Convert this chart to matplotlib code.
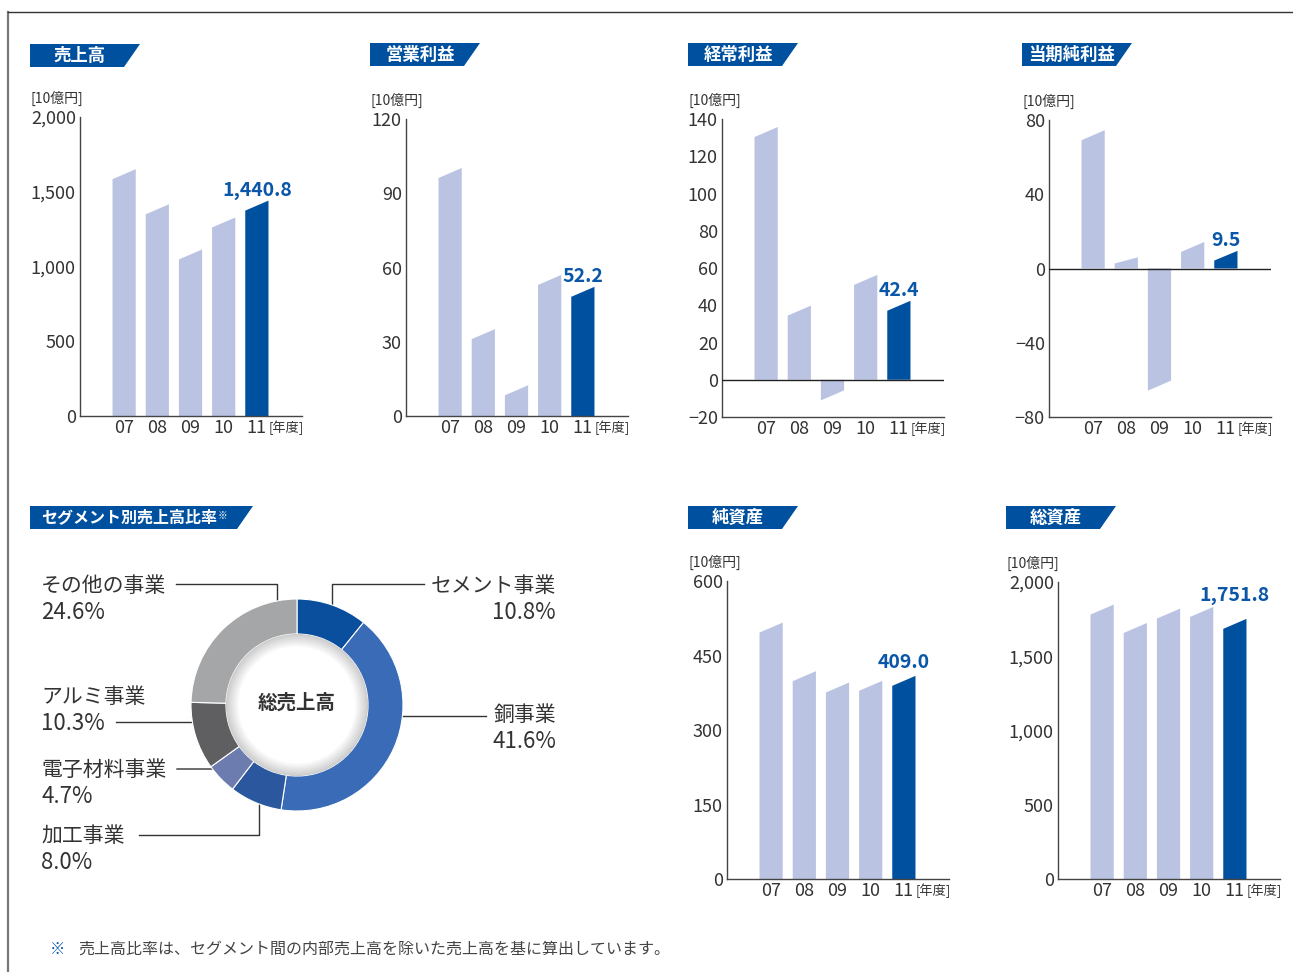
import numpy as np
import matplotlib
matplotlib.use('Agg')
import matplotlib.pyplot as plt
from matplotlib.patches import Polygon, Wedge

plt.rcParams['font.family'] = ['Noto Sans CJK JP', 'DejaVu Sans']

W, H = 1293, 972

# data (10億円)
years = ['07', '08', '09', '10', '11']
sales = [1651, 1416, 1114, 1328, 1440.8]
operating_income = [100.2, 35.1, 12.4, 57.0, 52.2]
ordinary_income = [135.7, 39.8, -5.7, 56.3, 42.4]
net_income = [74.5, 6.0, -60.4, 14.3, 9.5]
net_assets = [516.3, 418.4, 395.6, 399.0, 409.0]
total_assets = [1848, 1724, 1821, 1832, 1751.8]

sales_ticks = [0, 500, 1000, 1500, 2000]
operating_ticks = [0, 30, 60, 90, 120]
ordinary_ticks = [-20, 0, 20, 40, 60, 80, 100, 120, 140]
net_ticks = [-80, -40, 0, 40, 80]
net_assets_ticks = [0, 150, 300, 450, 600]
total_assets_ticks = [0, 500, 1000, 1500, 2000]

segment_names = ['セメント事業', '銅事業', '加工事業', '電子材料事業', 'アルミ事業', 'その他の事業']
segment_share = [10.8, 41.6, 8.0, 4.7, 10.3, 24.6]

LIGHT = '#bac4e2'
DARK = '#0050a0'
LABEL_BLUE = '#0a56a8'
TXT = '#333333'

fig = plt.figure(figsize=(W / 100, H / 100), dpi=100)
fig.patch.set_facecolor('white')


def fmt(t):
    s = f'{abs(t):,}'
    return ('\u2212' + s) if t < 0 else s


def bar_chart(values, ticks, label, left, top, bottom, gap):
    ax = fig.add_axes([left / W, 1 - bottom / H, 222 / W, (bottom - top) / H])
    ax.set_xlim(-1.33, 5.36)
    ax.set_ylim(ticks[0], ticks[-1])
    # slanted top: left edge sits ~10px below the right edge
    slant = (ticks[-1] - ticks[0]) * 10 / (bottom - top)
    for i, v in enumerate(values):
        x0, x1 = i - 0.35, i + 0.35
        lv = max(v - slant, v * 0.45) if v > 0 else v - slant
        ax.fill([x0, x0, x1, x1], [0, lv, v, 0],
                color=DARK if i == len(values) - 1 else LIGHT, lw=0, zorder=2)
    for s in ['top', 'right']:
        ax.spines[s].set_visible(False)
    for s in ['left', 'bottom']:
        ax.spines[s].set_color('#444444')
        ax.spines[s].set_linewidth(1.0)
    if ticks[0] < 0:
        ax.axhline(0, color='#222222', lw=1.0, zorder=3)
    ax.set_yticks(ticks)
    ax.set_yticklabels([fmt(t) for t in ticks], fontsize=13, color=TXT)
    ax.set_xticks(range(len(years)))
    ax.set_xticklabels(years, fontsize=13, color=TXT)
    ax.tick_params(length=0, pad=3)
    ax.tick_params(axis='x', pad=2)
    ax.patch.set_alpha(0)
    ax.annotate(label, xy=(len(values) - 1, values[-1]), xytext=(0, gap),
                textcoords='offset pixels', ha='center', va='baseline',
                fontsize=14, fontweight='bold', color=LABEL_BLUE)
    ax.annotate('[年度]', xy=(len(values) - 1 + 0.36, 0), xycoords=('data', 'axes fraction'),
                xytext=(0, -12), textcoords='offset pixels',
                ha='left', va='center', fontsize=9.5, color=TXT)
    return ax


# overlay in pixel coordinates for banners, notes and frame
ov = fig.add_axes([0, 0, 1, 1])
ov.set_xlim(0, W)
ov.set_ylim(H, 0)
ov.axis('off')

ov.plot([8, 8], [12, H], color='#777777', lw=1.6)
ov.plot([8, W], [12, 12], color='#333333', lw=1.0)


def banner(x0, y0, text, w=110):
    ov.add_patch(Polygon([(x0, y0), (x0 + w, y0), (x0 + w - 16, y0 + 23), (x0, y0 + 23)],
                         closed=True, color=DARK, lw=0))
    ov.text(x0 + (w - 16) / 2 + 3, y0 + 11.5, text, ha='center', va='center',
            fontsize=12.5, fontweight='bold', color='white')


charts = [
    ('売上高', 30, 44, sales, sales_ticks, '1,440.8', 80, 117, 416, 5),
    ('営業利益', 370, 43, operating_income, operating_ticks, '52.2', 406, 119, 416, 5),
    ('経常利益', 688, 43, ordinary_income, ordinary_ticks, '42.4', 722, 119, 417, 5),
    ('当期純利益', 1022, 43, net_income, net_ticks, '9.5', 1049, 120, 417, 5),
    ('純資産', 688, 506, net_assets, net_assets_ticks, '409.0', 727, 581, 879, 8),
    ('総資産', 1006, 506, total_assets, total_assets_ticks, '1,751.8', 1058, 582, 879, 18),
]

for title, bx, by, vals, ticks, lab, left, top, bottom, gap in charts:
    banner(bx, by, title)
    ov.text(bx + 1, top - 19, '[10億円]', ha='left', va='center', fontsize=10, color=TXT)
    bar_chart(vals, ticks, lab, left, top, bottom, gap)

# segment donut
banner(30, 506, '', w=223)
seg_title = ov.text(41, 517.5, 'セグメント別売上高比率', ha='left', va='center',
                    fontsize=11.5, fontweight='bold', color='white')
ov.annotate('※', xy=(1, 1), xycoords=seg_title, xytext=(1, -1), textcoords='offset pixels',
            ha='left', va='top', fontsize=7, color='white')

cx, cy, r = 297, 705, 106
dax = fig.add_axes([(cx - r) / W, 1 - (cy + r) / H, 2 * r / W, 2 * r / H])
seg_colors = ['#0a4f9e', '#3a6bb6', '#2b579f', '#6d7cae', '#5f5f62', '#a4a6a7']
dax.pie(segment_share, colors=seg_colors, startangle=90, counterclock=False, radius=1,
        wedgeprops=dict(width=0.33, edgecolor='white', linewidth=0.8))
for k in range(10):
    dax.add_patch(Wedge((0, 0), 0.67, 0, 360, width=0.012 * (k + 1),
                        color='black', alpha=0.02, lw=0))
dax.set_xlim(-1, 1)
dax.set_ylim(-1, 1)
dax.set_aspect('equal')
dax.axis('off')
dax.text(0, 0.02, '総売上高', ha='center', va='center', fontsize=14,
         fontweight='bold', color=TXT)

# segment labels and leader lines (pixel layout)
seg_layout = {
    'セメント事業': (556, 586, 'right', [(424, 584), (332, 584), (332, 613)]),
    '銅事業': (556, 715, 'right', [(486, 716), (395, 716)]),
    '加工事業': (41, 836, 'left', [(139, 835), (259, 835), (259, 796)]),
    '電子材料事業': (41, 770, 'left', [(177, 769), (215, 769), (228, 773)]),
    'アルミ事業': (41, 697, 'left', [(116, 722), (204, 722)]),
    'その他の事業': (41, 586, 'left', [(176, 584), (277, 584), (277, 611)]),
}
for name, share in zip(segment_names, segment_share):
    tx, ty, ha, pts = seg_layout[name]
    ov.text(tx, ty, name, ha=ha, va='center', fontsize=15, color=TXT)
    ov.text(tx, ty + 26, f'{share:.1f}%', ha=ha, va='center', fontsize=16, color=TXT)
    xs, ys = zip(*pts)
    ov.plot(xs, ys, color='#333333', lw=1.0)

ov.text(50, 949, '※', ha='left', va='center', fontsize=11, color=LABEL_BLUE)
ov.text(78, 949, '売上高比率は、セグメント間の内部売上高を除いた売上高を基に算出しています。',
        ha='left', va='center', fontsize=11.5, color='#444444')

fig.savefig('out.png', dpi=100)
